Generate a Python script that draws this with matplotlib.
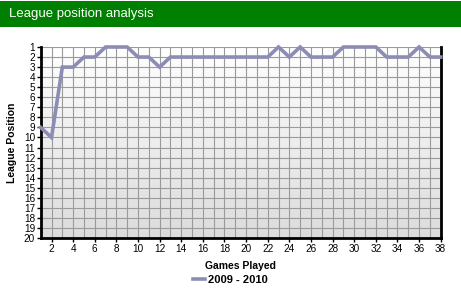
import numpy as np
import matplotlib
matplotlib.use("Agg")
import matplotlib.pyplot as plt
from matplotlib.patches import Rectangle
from matplotlib.colors import LinearSegmentedColormap

# ==========================================
# Data
# ==========================================
games = list(range(1, 39))
positions = [9, 10, 3, 3, 2, 2, 1, 1, 1, 2,
             2, 3, 2, 2, 2, 2, 2, 2, 2, 2,
             2, 2, 1, 2, 1, 2, 2, 2, 1, 1,
             1, 1, 2, 2, 2, 1, 2, 2]
season = "2009 - 2010"
title = "League position analysis"
x_ticks = list(range(2, 39, 2))
y_ticks = list(range(1, 21))

plt.rcParams['font.family'] = ['Liberation Sans', 'DejaVu Sans']

fig = plt.figure(figsize=(4.61, 2.89), dpi=100)

# green header bar
fig.patches.append(Rectangle((0, 1 - 27 / 289), 1, 26 / 289, transform=fig.transFigure,
                             facecolor='#008000', edgecolor='none', zorder=0))
fig.text(9 / 461, 1 - 13.5 / 289, title, color='white', fontsize=9.5,
         va='center', ha='left')

ax = fig.add_axes([40.7 / 461, 1 - 238 / 289, 400 / 461, 191 / 289])

# background gradient white -> light gray
grad = np.linspace(0, 1, 256).reshape(-1, 1)
bg = LinearSegmentedColormap.from_list('bg', ['#ffffff', '#dcdcdc'])
ax.imshow(grad, extent=[1, 38, 20, 1], aspect='auto', cmap=bg, zorder=0,
          interpolation='bicubic')

ax.plot(games, positions, color='#8c8cb4', linewidth=2.6, zorder=3,
        solid_joinstyle='miter', label=season, clip_on=False)

ax.set_xlim(1, 38)
ax.set_ylim(20, 1)
ax.set_xticks(x_ticks)
ax.set_xticks(games, minor=True)
ax.set_yticks(y_ticks)
ax.grid(True, which='both', color='#9a9a9a', linewidth=0.8, zorder=1)
ax.set_axisbelow(True)

for s in ['left', 'bottom', 'right']:
    ax.spines[s].set_linewidth(2)
    ax.spines[s].set_color('black')
ax.spines['top'].set_visible(False)

ax.tick_params(axis='both', which='major', labelsize=7.2, length=3, width=1, pad=1.5)
ax.tick_params(axis='x', which='minor', length=0)
ax.tick_params(axis='y', pad=1)

ax.set_xlabel("Games Played", fontsize=7.5, fontweight='bold', labelpad=5)
ax.set_ylabel("League Position", fontsize=7.5, fontweight='bold', labelpad=5)

fig.legend(loc='center', bbox_to_anchor=(0.5, 1 - 280 / 289), frameon=False,
           handlelength=1.0, handletextpad=0.3,
           prop={'size': 8, 'weight': 'bold'})

fig.savefig("out.png", dpi=100)
